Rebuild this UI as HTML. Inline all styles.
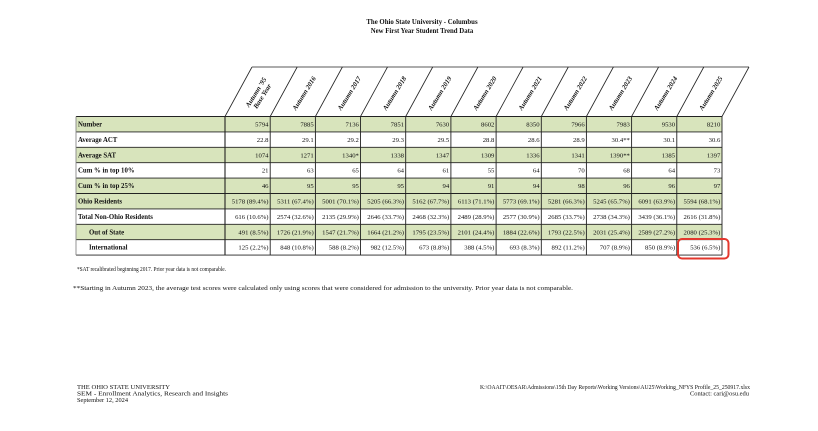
<!DOCTYPE html>
<html><head><meta charset="utf-8"><style>
html,body{margin:0;padding:0;background:#fff;}
svg{display:block;}
text{font-family:"Liberation Serif",serif;fill:#111;}
.b{font-weight:bold;}
.h{font-weight:bold;font-style:italic;font-size:6.8px;}
.d{font-size:6.7px;text-anchor:end;}
.l{font-size:6.8px;font-weight:bold;}
.f{font-size:6.2px;}
</style></head><body>
<svg width="818" height="431" viewBox="0 0 818 431" xmlns="http://www.w3.org/2000/svg">
<rect width="818" height="431" fill="#fff"/>
<text class="b" x="422" y="24" font-size="6.8" text-anchor="middle">The Ohio State University - Columbus</text>
<text class="b" x="422" y="33" font-size="6.8" text-anchor="middle">New First Year Student Trend Data</text>

<!-- row backgrounds -->
<g fill="#d8e4bc">
<rect x="76" y="116.5" width="646" height="15.4"/>
<rect x="76" y="147.3" width="646" height="15.4"/>
<rect x="76" y="178.1" width="646" height="30.8"/>
<rect x="76" y="224.3" width="646" height="15.4"/>
</g>

<!-- header parallelograms -->
<g stroke="#222" stroke-width="0.8" fill="none">
<line x1="252" y1="67" x2="749" y2="67"/>
<line x1="225" y1="116.5" x2="252" y2="67"/>
<line x1="270.2" y1="116.5" x2="297.2" y2="67"/>
<line x1="315.4" y1="116.5" x2="342.4" y2="67"/>
<line x1="360.5" y1="116.5" x2="387.5" y2="67"/>
<line x1="405.7" y1="116.5" x2="432.7" y2="67"/>
<line x1="450.9" y1="116.5" x2="477.9" y2="67"/>
<line x1="496.1" y1="116.5" x2="523.1" y2="67"/>
<line x1="541.3" y1="116.5" x2="568.3" y2="67"/>
<line x1="586.4" y1="116.5" x2="613.4" y2="67"/>
<line x1="631.6" y1="116.5" x2="658.6" y2="67"/>
<line x1="676.8" y1="116.5" x2="703.8" y2="67"/>
<line x1="722" y1="116.5" x2="749" y2="67"/>
</g>
<g class="h" text-anchor="middle">
<text transform="translate(259.5,94.5) rotate(-58)"><tspan x="0" y="-2">Autumn '95</tspan><tspan x="0" y="5.5">Base Year</tspan></text>
<text transform="translate(306,94.5) rotate(-58)">Autumn 2016</text>
<text transform="translate(351.2,94.5) rotate(-58)">Autumn 2017</text>
<text transform="translate(396.4,94.5) rotate(-58)">Autumn 2018</text>
<text transform="translate(441.6,94.5) rotate(-58)">Autumn 2019</text>
<text transform="translate(486.8,94.5) rotate(-58)">Autumn 2020</text>
<text transform="translate(532,94.5) rotate(-58)">Autumn 2021</text>
<text transform="translate(577.2,94.5) rotate(-58)">Autumn 2022</text>
<text transform="translate(622.3,94.5) rotate(-58)">Autumn 2023</text>
<text transform="translate(667.5,94.5) rotate(-58)">Autumn 2024</text>
<text transform="translate(712.7,94.5) rotate(-58)">Autumn 2025</text>
</g>

<!-- grid -->
<g stroke="#222" stroke-width="0.9">
<line x1="76" y1="116.5" x2="722" y2="116.5"/>
<line x1="76" y1="131.9" x2="722" y2="131.9"/>
<line x1="76" y1="147.3" x2="722" y2="147.3"/>
<line x1="76" y1="162.7" x2="722" y2="162.7"/>
<line x1="76" y1="178.1" x2="722" y2="178.1"/>
<line x1="76" y1="193.5" x2="722" y2="193.5"/>
<line x1="76" y1="208.9" x2="722" y2="208.9"/>
<line x1="76" y1="224.3" x2="722" y2="224.3"/>
<line x1="76" y1="239.7" x2="722" y2="239.7"/>
<line x1="76" y1="255.1" x2="722" y2="255.1"/>
<line x1="76" y1="116.5" x2="76" y2="255.1" stroke="#888"/>
<line x1="225" y1="116.5" x2="225" y2="255.1" stroke-width="1.1"/>
<line x1="270.2" y1="116.5" x2="270.2" y2="255.1"/>
<line x1="315.4" y1="116.5" x2="315.4" y2="255.1"/>
<line x1="360.5" y1="116.5" x2="360.5" y2="255.1"/>
<line x1="405.7" y1="116.5" x2="405.7" y2="255.1"/>
<line x1="450.9" y1="116.5" x2="450.9" y2="255.1"/>
<line x1="496.1" y1="116.5" x2="496.1" y2="255.1"/>
<line x1="541.3" y1="116.5" x2="541.3" y2="255.1"/>
<line x1="586.4" y1="116.5" x2="586.4" y2="255.1"/>
<line x1="631.6" y1="116.5" x2="631.6" y2="255.1"/>
<line x1="676.8" y1="116.5" x2="676.8" y2="255.1"/>
<line x1="722" y1="116.5" x2="722" y2="255.1"/>
</g>

<!-- labels -->
<g class="l">
<text x="78" y="126.5">Number</text>
<text x="78" y="141.9">Average ACT</text>
<text x="78" y="157.3">Average SAT</text>
<text x="78" y="172.7">Cum % in top 10%</text>
<text x="78" y="188.1">Cum % in top 25%</text>
<text x="78" y="203.5">Ohio Residents</text>
<text x="78" y="218.9">Total Non-Ohio Residents</text>
<text x="89" y="234.3">Out of State</text>
<text x="89" y="249.7">International</text>
</g>

<!-- data -->
<g class="d">
<text y="126.5"><tspan x="268.5">5794</tspan><tspan x="313.7">7885</tspan><tspan x="358.9">7136</tspan><tspan x="404">7851</tspan><tspan x="449.2">7630</tspan><tspan x="494.4">8602</tspan><tspan x="539.6">8350</tspan><tspan x="584.7">7966</tspan><tspan x="629.9">7983</tspan><tspan x="675.1">9530</tspan><tspan x="720.3">8210</tspan></text>
<text y="141.9"><tspan x="268.5">22.8</tspan><tspan x="313.7">29.1</tspan><tspan x="358.9">29.2</tspan><tspan x="404">29.3</tspan><tspan x="449.2">29.5</tspan><tspan x="494.4">28.8</tspan><tspan x="539.6">28.6</tspan><tspan x="584.7">28.9</tspan><tspan x="629.9">30.4**</tspan><tspan x="675.1">30.1</tspan><tspan x="720.3">30.6</tspan></text>
<text y="157.3"><tspan x="268.5">1074</tspan><tspan x="313.7">1271</tspan><tspan x="358.9">1340*</tspan><tspan x="404">1338</tspan><tspan x="449.2">1347</tspan><tspan x="494.4">1309</tspan><tspan x="539.6">1336</tspan><tspan x="584.7">1341</tspan><tspan x="629.9">1390**</tspan><tspan x="675.1">1385</tspan><tspan x="720.3">1397</tspan></text>
<text y="172.7"><tspan x="268.5">21</tspan><tspan x="313.7">63</tspan><tspan x="358.9">65</tspan><tspan x="404">64</tspan><tspan x="449.2">61</tspan><tspan x="494.4">55</tspan><tspan x="539.6">64</tspan><tspan x="584.7">70</tspan><tspan x="629.9">68</tspan><tspan x="675.1">64</tspan><tspan x="720.3">73</tspan></text>
<text y="188.1"><tspan x="268.5">46</tspan><tspan x="313.7">95</tspan><tspan x="358.9">95</tspan><tspan x="404">95</tspan><tspan x="449.2">94</tspan><tspan x="494.4">91</tspan><tspan x="539.6">94</tspan><tspan x="584.7">98</tspan><tspan x="629.9">96</tspan><tspan x="675.1">96</tspan><tspan x="720.3">97</tspan></text>
<text y="203.5"><tspan x="268.5">5178 (89.4%)</tspan><tspan x="313.7">5311 (67.4%)</tspan><tspan x="358.9">5001 (70.1%)</tspan><tspan x="404">5205 (66.3%)</tspan><tspan x="449.2">5162 (67.7%)</tspan><tspan x="494.4">6113 (71.1%)</tspan><tspan x="539.6">5773 (69.1%)</tspan><tspan x="584.7">5281 (66.3%)</tspan><tspan x="629.9">5245 (65.7%)</tspan><tspan x="675.1">6091 (63.9%)</tspan><tspan x="720.3">5594 (68.1%)</tspan></text>
<text y="218.9"><tspan x="268.5">616 (10.6%)</tspan><tspan x="313.7">2574 (32.6%)</tspan><tspan x="358.9">2135 (29.9%)</tspan><tspan x="404">2646 (33.7%)</tspan><tspan x="449.2">2468 (32.3%)</tspan><tspan x="494.4">2489 (28.9%)</tspan><tspan x="539.6">2577 (30.9%)</tspan><tspan x="584.7">2685 (33.7%)</tspan><tspan x="629.9">2738 (34.3%)</tspan><tspan x="675.1">3439 (36.1%)</tspan><tspan x="720.3">2616 (31.8%)</tspan></text>
<text y="234.3"><tspan x="268.5">491 (8.5%)</tspan><tspan x="313.7">1726 (21.9%)</tspan><tspan x="358.9">1547 (21.7%)</tspan><tspan x="404">1664 (21.2%)</tspan><tspan x="449.2">1795 (23.5%)</tspan><tspan x="494.4">2101 (24.4%)</tspan><tspan x="539.6">1884 (22.6%)</tspan><tspan x="584.7">1793 (22.5%)</tspan><tspan x="629.9">2031 (25.4%)</tspan><tspan x="675.1">2589 (27.2%)</tspan><tspan x="720.3">2080 (25.3%)</tspan></text>
<text y="249.7"><tspan x="268.5">125 (2.2%)</tspan><tspan x="313.7">848 (10.8%)</tspan><tspan x="358.9">588 (8.2%)</tspan><tspan x="404">982 (12.5%)</tspan><tspan x="449.2">673 (8.8%)</tspan><tspan x="494.4">388 (4.5%)</tspan><tspan x="539.6">693 (8.3%)</tspan><tspan x="584.7">892 (11.2%)</tspan><tspan x="629.9">707 (8.9%)</tspan><tspan x="675.1">850 (8.9%)</tspan><tspan x="720.3">536 (6.5%)</tspan></text>
</g>

<rect x="678" y="239" width="50.5" height="19.5" rx="4" ry="4" fill="none" stroke="#e3382e" stroke-width="2"/>

<!-- footnotes -->
<text class="f" x="77" y="271" font-size="5.6" textLength="149" lengthAdjust="spacingAndGlyphs">*SAT recalibrated beginning 2017. Prior year data is not comparable.</text>
<text class="f" x="73" y="290" font-size="6.8" textLength="500" lengthAdjust="spacingAndGlyphs">**Starting in Autumn 2023, the average test scores were calculated only using scores that were considered for admission to the university. Prior year data is not comparable.</text>

<!-- footer -->
<text class="f" x="77" y="389" font-size="5.9" textLength="93" lengthAdjust="spacingAndGlyphs">THE OHIO STATE UNIVERSITY</text>
<text class="f" x="77" y="395.5" font-size="5.9" textLength="151" lengthAdjust="spacingAndGlyphs">SEM - Enrollment Analytics, Research and Insights</text>
<text class="f" x="77" y="402" font-size="5.9" textLength="51" lengthAdjust="spacingAndGlyphs">September 12, 2024</text>
<text class="f" x="480" y="389" font-size="5.6" textLength="270" lengthAdjust="spacingAndGlyphs">K:\OAAIT\OESAR\Admissions\15th Day Reports\Working Versions\AU25\Working_NFYS Profile_25_250917.xlsx</text>
<text class="f" x="690" y="395.5" font-size="5.6" textLength="59" lengthAdjust="spacingAndGlyphs">Contact: cari@osu.edu</text>
</svg>
</body></html>
